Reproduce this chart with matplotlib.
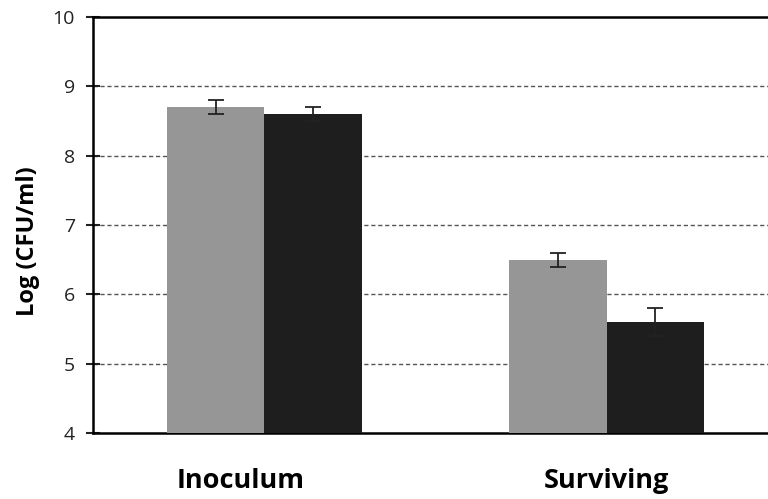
import matplotlib
matplotlib.use("Agg")
from matplotlib import pyplot as plt
import numpy as np

plt.rcParams['font.family'] = ['Open Sans', 'DejaVu Sans']

# log counts per group, with standard error
groups = ['Inoculum', 'Surviving']
strain_a = [8.7, 6.5]
strain_a_err = [0.1, 0.1]
strain_b = [8.6, 5.6]
strain_b_err = [0.1, 0.2]

fig = plt.figure(figsize=(7.68, 4.99), dpi=100)
ax = fig.add_axes([0.1211, 0.1323, 0.8919, 0.8337])

x = np.arange(len(groups))
w = 0.284

ekw = dict(ecolor='#222222', elinewidth=1.3, capsize=6, capthick=1.3)
ax.bar(x - w/2, strain_a, w, bottom=0, yerr=strain_a_err,
       color='#969696', error_kw=ekw, zorder=3)
ax.bar(x + w/2, strain_b, w, bottom=0, yerr=strain_b_err,
       color='#1e1e1e', error_kw=ekw, zorder=3)

ax.set_xlim(-0.5, 1.5)
ax.set_ylim(4, 10)
ax.set_yticks(np.arange(4, 11, 1))
for v in range(5, 10):
    ax.axhline(v, color='#555555', lw=1, ls=(0, (3, 2)), zorder=1)

# group names sit a little left of centre under the first pair
ax.set_xticks([])
label_shift = [-0.07, 0.0]
for xi, name, dx in zip(x, groups, label_shift):
    ax.text(xi + dx, -0.116, name, transform=ax.get_xaxis_transform(),
            ha='center', va='center', fontsize=19.5, fontweight='bold')

ax.tick_params(axis='y', direction='inout', length=10, width=1.5,
               labelsize=14, pad=8, colors='#222222')
ax.set_ylabel('Log (CFU/ml)', fontsize=17, fontweight='bold')
ax.yaxis.set_label_coords(-0.077, 0.46)

for s in ['left', 'bottom', 'top', 'right']:
    ax.spines[s].set_linewidth(1.8)
    ax.spines[s].set_color('black')

fig.savefig('out.png', dpi=100)
plt.close()
